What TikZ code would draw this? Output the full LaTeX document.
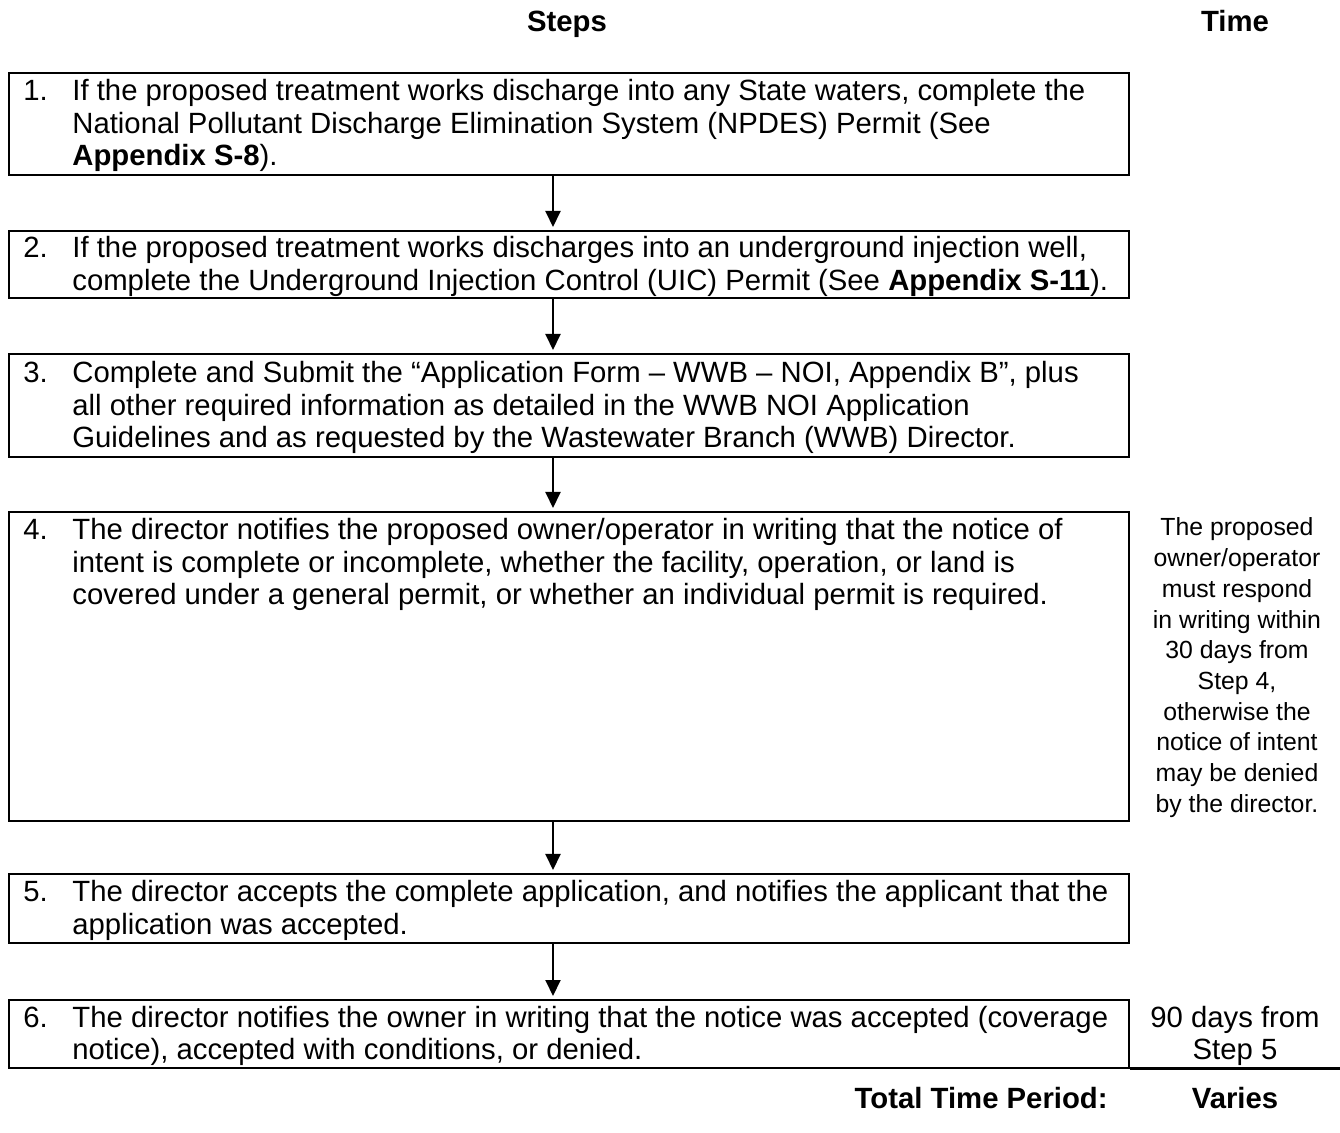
\documentclass[tikz,border=0pt]{standalone}
\usepackage{fontspec}
\setmainfont{Liberation Sans}
\usetikzlibrary{arrows.meta}
\begin{document}
\begin{tikzpicture}[x=0.5pt,y=-0.5pt,
  stepbox/.style={draw, line width=1pt, inner sep=0pt, minimum width=560pt, anchor=north west},
  steptext/.style={anchor=base west, inner sep=0pt, font=\fontsize{14.65pt}{16.25pt}\selectfont},
  timetext/.style={anchor=base, inner sep=0pt},
  headtext/.style={anchor=base, inner sep=0pt, font=\fontsize{14.65pt}{17pt}\selectfont\bfseries},
  arr/.style={line width=1pt, -{Triangle[width=7.5pt,length=8pt]}, shorten >=1.5pt}
]
\useasboundingbox (0,0) rectangle (1340,1133);
\renewcommand{\arraystretch}{1}
% headers
\node[headtext] (hsteps) at (567,32) {Steps};
\node[headtext] (htime) at (1235,32) {Time};
% boxes
\node[stepbox, minimum height=51pt] (s1) at (8,72) {};
\node[stepbox, minimum height=33.5pt] (s2) at (8,230) {};
\node[stepbox, minimum height=51.5pt] (s3) at (8,353) {};
\node[stepbox, minimum height=154.5pt] (s4) at (8,511) {};
\node[stepbox, minimum height=34.5pt] (s5) at (8,873) {};
\node[stepbox, minimum height=34pt] (s6) at (8,999) {};
% texts
\node[steptext] (t1) at (23,101) {\begin{tabular}[t]{@{}p{24.5pt}@{}l@{}}
1. & If the proposed treatment works discharge into any State waters, complete the\\
 & National Pollutant Discharge Elimination System (NPDES) Permit (See\\
 & \textbf{Appendix S-8}).\end{tabular}};
\node[steptext] (t2) at (23,258) {\begin{tabular}[t]{@{}p{24.5pt}@{}l@{}}
2. & If the proposed treatment works discharges into an underground injection well,\\
 & complete the Underground Injection Control (UIC) Permit (See \textbf{Appendix S-11}).\end{tabular}};
\node[steptext] (t3) at (23,383) {\begin{tabular}[t]{@{}p{24.5pt}@{}l@{}}
3. & Complete and Submit the “Application Form – WWB – NOI, Appendix B”, plus\\
 & all other required information as detailed in the WWB NOI Application\\
 & Guidelines and as requested by the Wastewater Branch (WWB) Director.\end{tabular}};
\node[steptext] (t4) at (23,540) {\begin{tabular}[t]{@{}p{24.5pt}@{}l@{}}
4. & The director notifies the proposed owner/operator in writing that the notice of\\
 & intent is complete or incomplete, whether the facility, operation, or land is\\
 & covered under a general permit, or whether an individual permit is required.\end{tabular}};
\node[steptext] (t5) at (23,902) {\begin{tabular}[t]{@{}p{24.5pt}@{}l@{}}
5. & The director accepts the complete application, and notifies the applicant that the\\
 & application was accepted.\end{tabular}};
\node[steptext] (t6) at (23,1027) {\begin{tabular}[t]{@{}p{24.5pt}@{}l@{}}
6. & The director notifies the owner in writing that the notice was accepted (coverage\\
 & notice), accepted with conditions, or denied.\end{tabular}};
% time column
\node[timetext, font=\fontsize{12.4pt}{15.35pt}\selectfont] (tm4) at (1237,536) {\begin{tabular}[t]{@{}c@{}}
The proposed\\ owner/operator\\ must respond\\ in writing within\\ 30 days from\\ Step 4,\\ otherwise the\\ notice of intent\\ may be denied\\ by the director.\end{tabular}};
\node[timetext, font=\fontsize{14.65pt}{16.25pt}\selectfont] (tm6) at (1235,1027) {\begin{tabular}[t]{@{}c@{}}
90 days from\\ Step 5\end{tabular}};
\coordinate (tend) at (1340,1068.5);
\draw[line width=1.75pt] (s6.south east |- tend) -- (tend);
% total
\node[anchor=base east, inner sep=0pt, font=\fontsize{14.65pt}{17pt}\selectfont\bfseries] (total) at (1108,1108) {Total Time Period:};
\node[headtext] (varies) at (1235,1108) {Varies};
% arrows
\coordinate (ax) at (553,0);
\draw[arr] (s1.south -| ax) -- (s2.north -| ax);
\draw[arr] (s2.south -| ax) -- (s3.north -| ax);
\draw[arr] (s3.south -| ax) -- (s4.north -| ax);
\draw[arr] (s4.south -| ax) -- (s5.north -| ax);
\draw[arr] (s5.south -| ax) -- (s6.north -| ax);
\end{tikzpicture}
\end{document}
